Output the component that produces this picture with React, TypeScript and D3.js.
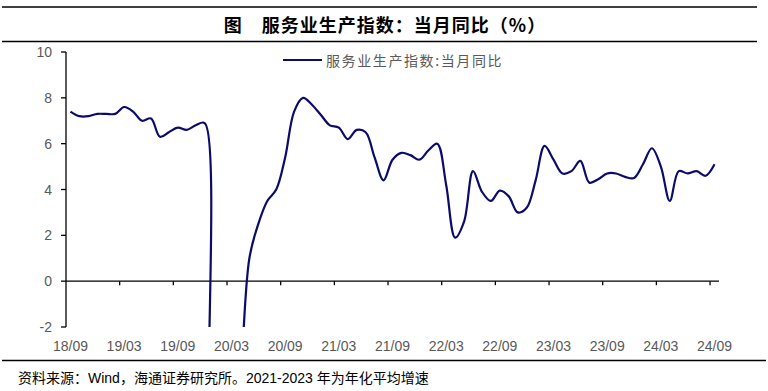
import React, { useEffect, useRef } from 'react';
import * as d3 from 'd3';

const MONTHS = [
  '18/09', '18/10', '18/11', '18/12',
  '19/01', '19/02', '19/03', '19/04', '19/05', '19/06', '19/07', '19/08', '19/09', '19/10', '19/11', '19/12',
  '20/01', '20/02', '20/03', '20/04', '20/05', '20/06', '20/07', '20/08', '20/09', '20/10', '20/11', '20/12',
  '21/01', '21/02', '21/03', '21/04', '21/05', '21/06', '21/07', '21/08', '21/09', '21/10', '21/11', '21/12',
  '22/01', '22/02', '22/03', '22/04', '22/05', '22/06', '22/07', '22/08', '22/09', '22/10', '22/11', '22/12',
  '23/01', '23/02', '23/03', '23/04', '23/05', '23/06', '23/07', '23/08', '23/09', '23/10', '23/11', '23/12',
  '24/01', '24/02', '24/03', '24/04', '24/05', '24/06', '24/07', '24/08', '24/09',
];

// 服务业生产指数 当月同比 (%)
const VALUES = [
  7.4, 7.2, 7.2, 7.3,
  7.3, 7.3, 7.6, 7.4, 7.0, 7.1, 6.3, 6.5, 6.7, 6.6, 6.8, 6.9,
  -13.0, -13.0, -9.1, -4.5, 1.0, 2.5, 3.5, 4.0, 5.4, 7.4, 8.0, 7.7,
  7.25, 6.8, 6.7, 6.2, 6.6, 6.5, 5.4, 4.4, 5.3, 5.6, 5.5, 5.3,
  5.7, 6.0, 4.2, 1.9, 2.6, 4.8, 3.9, 3.5, 3.95, 3.7, 3.0, 3.2,
  4.4, 5.9, 5.3, 4.7, 4.8, 5.25, 4.3, 4.45, 4.7, 4.7, 4.55, 4.5,
  5.1, 5.8, 5.0, 3.5, 4.8, 4.7, 4.8, 4.6, 5.1,
];

const TICK_LABELS = ['18/09', '19/03', '19/09', '20/03', '20/09', '21/03', '21/09', '22/03', '22/09', '23/03', '23/09', '24/03', '24/09'];
const Y_TICKS = [-2, 0, 2, 4, 6, 8, 10];

const TITLE = '图　服务业生产指数：当月同比（%）';
const LEGEND = '服务业生产指数:当月同比';
const SOURCE = '资料来源：Wind，海通证券研究所。2021-2023 年为年化平均增速';

const W = 768, H = 391;
const LINE_COLOR = '#0b0b6b';
const TEXT_GRAY = '#595959';
const NUM_FONT = "'Liberation Sans', Arial, sans-serif";
const CJK_FONT = "'Liberation Sans', 'Noto Sans CJK SC', sans-serif";

export default function App() {
  const ref = useRef<SVGSVGElement>(null);

  useEffect(() => {
    const svg = d3.select(ref.current);
    svg.selectAll('*').remove();

    const m = { l: 66, r: 49, t: 52, b: 64 };
    const x = d3.scaleBand().domain(MONTHS).range([m.l, W - m.r]).paddingInner(0).paddingOuter(0);
    const y = d3.scaleLinear().domain([-2, 10]).range([H - m.b, m.t]);
    const cx = (d: string) => (x(d) as number) + x.bandwidth() / 2;

    svg.append('rect').attr('width', W).attr('height', H).attr('fill', '#fff');

    // title block
    svg.append('line').attr('x1', 2).attr('x2', 757).attr('y1', 7).attr('y2', 7).attr('stroke', '#000').attr('stroke-width', 1.6);
    svg.append('line').attr('x1', 2).attr('x2', 757).attr('y1', 41.5).attr('y2', 41.5).attr('stroke', '#000').attr('stroke-width', 1.6);
    svg.append('text').attr('x', 385).attr('y', 24).attr('text-anchor', 'middle').attr('dominant-baseline', 'central')
      .attr('font-family', "'Noto Sans CJK SC', sans-serif").attr('font-weight', 'bold').attr('font-size', 18)
      .attr('letter-spacing', 1).attr('fill', '#000').text(TITLE);

    // y axis
    svg.append('line').attr('x1', m.l).attr('x2', m.l).attr('y1', y(10)).attr('y2', y(-2)).attr('stroke', '#000').attr('stroke-width', 1.3);
    Y_TICKS.forEach(t => {
      svg.append('line').attr('x1', m.l - 5).attr('x2', m.l).attr('y1', y(t)).attr('y2', y(t)).attr('stroke', '#000').attr('stroke-width', 1.3);
      svg.append('text').attr('x', m.l - 14).attr('y', y(t)).attr('text-anchor', 'end').attr('dominant-baseline', 'central')
        .attr('font-family', NUM_FONT).attr('font-size', 14).attr('fill', TEXT_GRAY).text(t);
    });

    // x axis at zero
    svg.append('line').attr('x1', m.l).attr('x2', W - m.r).attr('y1', y(0)).attr('y2', y(0)).attr('stroke', '#000').attr('stroke-width', 1.3);
    MONTHS.forEach((mo, i) => {
      if (i % 6 !== 0 || i === 0) return;
      const xx = x(mo) as number;
      svg.append('line').attr('x1', xx).attr('x2', xx).attr('y1', y(0)).attr('y2', y(0) + 4).attr('stroke', '#000').attr('stroke-width', 1.3);
    });
    TICK_LABELS.forEach(lbl => {
      svg.append('text').attr('x', cx(lbl)).attr('y', H - m.b + 19).attr('text-anchor', 'middle').attr('dominant-baseline', 'central')
        .attr('font-family', NUM_FONT).attr('font-size', 14).attr('fill', TEXT_GRAY).text(lbl);
    });

    // line, clipped to the plot
    svg.append('defs').append('clipPath').attr('id', 'plot-clip')
      .append('rect').attr('x', m.l).attr('y', y(10)).attr('width', W - m.r - m.l + 2).attr('height', y(-2) - y(10));
    const pts = MONTHS.map((mo, i) => ({ mo, v: VALUES[i] }));
    svg.append('path').datum(pts).attr('clip-path', 'url(#plot-clip)')
      .attr('fill', 'none').attr('stroke', LINE_COLOR).attr('stroke-width', 2.2).attr('stroke-linejoin', 'round')
      .attr('d', d3.line<{ mo: string; v: number }>().x(d => cx(d.mo)).y(d => y(d.v)).curve(d3.curveCatmullRom.alpha(0.5)));

    // legend
    svg.append('line').attr('x1', 283).attr('x2', 322).attr('y1', 60).attr('y2', 60).attr('stroke', LINE_COLOR).attr('stroke-width', 2.2);
    svg.append('text').attr('x', 326).attr('y', 60).attr('dominant-baseline', 'central')
      .attr('font-family', "'Noto Sans CJK SC', sans-serif").attr('font-size', 14).attr('letter-spacing', 1.6)
      .attr('fill', TEXT_GRAY).text(LEGEND);

    // source
    svg.append('line').attr('x1', 2).attr('x2', 766).attr('y1', 360.5).attr('y2', 360.5).attr('stroke', '#000').attr('stroke-width', 1.6);
    svg.append('text').attr('x', 18).attr('y', 378).attr('dominant-baseline', 'central')
      .attr('font-family', CJK_FONT).attr('font-size', 14).attr('fill', '#000').text(SOURCE);
  }, []);

  return <svg ref={ref} width={W} height={H} style={{ position: 'absolute', left: 0, top: 0 }} />;
}
